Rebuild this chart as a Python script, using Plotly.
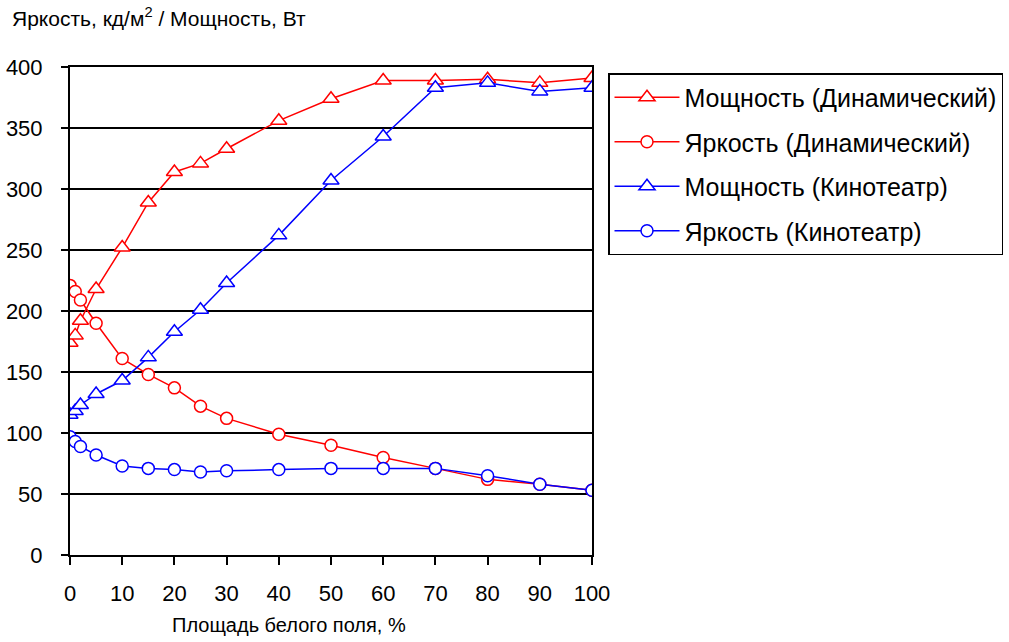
import plotly.graph_objects as go

x_area = [0, 1, 2, 5, 10, 15, 20, 25, 30, 40, 50, 60, 70, 80, 90, 100]
power_dyn = [174, 180, 192, 218, 252, 289, 314, 321, 333, 356, 374, 389, 389, 390, 387, 391]
bright_dyn = [221, 216, 209, 190, 161, 148, 137, 122, 112, 99, 90, 80, 71, 62, 58, 53]
power_cin = [115, 118, 123, 132, 143, 162, 183, 201, 223, 262, 307, 343, 383, 387, 380, 383]
bright_cin = [97, 93, 89, 82, 73, 71, 70, 68, 69, 70, 71, 71, 71, 65, 58, 53]

series = [
    ("Мощность (Динамический)", power_dyn, "#FF0000", "triangle-up"),
    ("Яркость (Динамический)", bright_dyn, "#FF0000", "circle"),
    ("Мощность (Кинотеатр)", power_cin, "#0000FF", "triangle-up"),
    ("Яркость (Кинотеатр)", bright_cin, "#0000FF", "circle"),
]

FONT = "Liberation Sans, Arial, sans-serif"

fig = go.Figure()
for i, (name, vals, col, sym) in enumerate(series):
    fig.add_trace(go.Scatter(
        x=x_area, y=vals, name=name, mode="lines+markers",
        legendgroup=f"g{i}",
        line=dict(color=col, width=1.5),
        marker=dict(symbol=sym, size=14 if sym == "triangle-up" else 12,
                    color="white", line=dict(color=col, width=1.5)),
    ))

W, H = 1009, 642
L, R, T, B = 70, W - 592, 67, H - 555
pw, ph = 592 - 70, 555 - 67

fig.update_layout(
    width=W, height=H,
    margin=dict(l=L, r=R, t=T, b=B, autoexpand=False),
    paper_bgcolor="white", plot_bgcolor="white",
    font=dict(family=FONT, size=21, color="#000"),
    showlegend=True,
    legend=dict(
        xref="container", yref="container",
        x=608 / W, y=1 - 73 / H, xanchor="left", yanchor="top",
        bordercolor="#000", borderwidth=1.5, bgcolor="white",
        font=dict(family=FONT, size=25, color="#000"),
        itemwidth=65, tracegroupgap=9, traceorder="grouped",
    ),
    xaxis=dict(
        range=[0, 100], tickmode="linear", tick0=0, dtick=10,
        showgrid=False, zeroline=False, automargin=False,
        showline=True, linecolor="#000", linewidth=2, mirror=True,
        ticks="outside", ticklen=8, tickwidth=1.5, tickcolor="#000",
        tickfont=dict(size=22), ticklabelstandoff=10,
    ),
    yaxis=dict(
        range=[0, 400], tickmode="linear", tick0=0, dtick=50,
        showgrid=True, gridcolor="#000", gridwidth=1.5, zeroline=False, automargin=False,
        showline=True, linecolor="#000", linewidth=2, mirror=True,
        ticks="outside", ticklen=7, tickwidth=1.5, tickcolor="#000",
        tickfont=dict(size=22), ticklabelstandoff=14,
    ),
    annotations=[
        dict(text="Яркость, кд/м<sup>2</sup> / Мощность, Вт", xref="paper", yref="paper",
             x=(10 - 70) / pw, y=(555 - 17) / ph, xanchor="left", yanchor="middle",
             showarrow=False, font=dict(family=FONT, size=21)),
        dict(text="Площадь белого поля, %", xref="paper", yref="paper",
             x=(289 - 70) / pw, y=(555 - 625) / ph, xanchor="center", yanchor="middle",
             showarrow=False, font=dict(family=FONT, size=20)),
    ],
)

fig.write_html("out.html")
